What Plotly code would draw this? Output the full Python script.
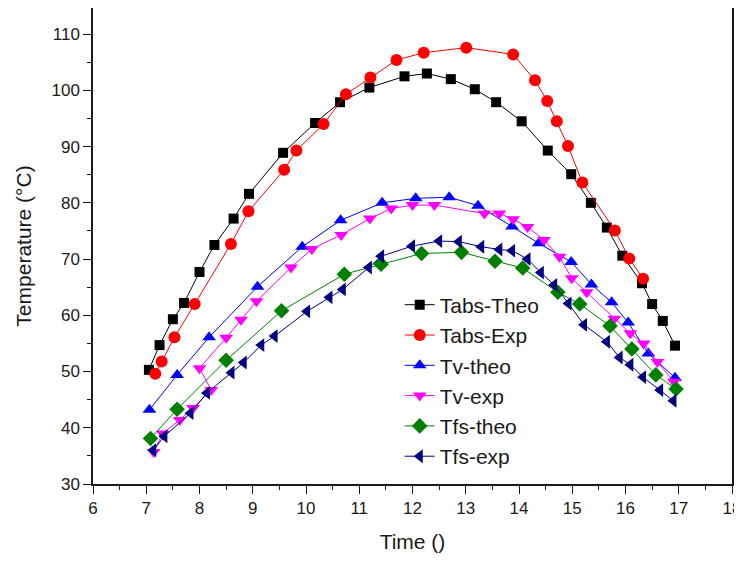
import plotly.graph_objects as go

# ---------------- data ----------------
tabs_theo_x = [7.05, 7.25, 7.5, 7.71, 8.0, 8.28, 8.64, 8.93, 9.57, 10.17, 10.64, 11.19, 11.85, 12.27,
               12.72, 13.17, 13.57, 14.05, 14.54, 14.98, 15.35, 15.65, 15.94, 16.31, 16.50, 16.70, 16.93]
tabs_theo_y = [50.3, 54.7, 59.3, 62.2, 67.7, 72.5, 77.2, 81.6, 88.9, 94.2, 97.9, 100.5, 102.5, 103.0,
               102.0, 100.2, 97.9, 94.5, 89.3, 85.1, 80.0, 75.6, 70.6, 65.7, 62.0, 59.0, 54.6]

tabs_exp_x = [7.17, 7.29, 7.53, 7.91, 8.59, 8.92, 9.59, 9.82, 10.33, 10.75, 11.21, 11.70, 12.21, 13.01,
              13.89, 14.30, 14.53, 14.71, 14.92, 15.19, 15.80, 16.07, 16.33]
tabs_exp_y = [49.6, 51.8, 56.1, 62.0, 72.7, 78.5, 85.9, 89.3, 94.0, 99.3, 102.3, 105.4, 106.7, 107.6,
              106.4, 101.8, 98.1, 94.5, 90.1, 83.6, 75.1, 70.1, 66.5]

tv_theo_x = [7.06, 7.58, 8.18, 9.09, 9.93, 10.65, 11.43, 12.06, 12.69, 13.23, 13.87, 14.37, 14.98,
             15.36, 15.74, 16.05, 16.43, 16.93]
tv_theo_y = [43.2, 49.4, 56.1, 65.1, 72.2, 76.9, 80.0, 80.8, 81.0, 79.5, 75.8, 72.8, 69.5,
             65.5, 62.3, 58.7, 53.2, 48.9]

tv_exp_x = [7.14, 7.31, 7.63, 7.88, 8.22, 8.0, 8.50, 8.78, 9.07, 9.72, 10.11, 10.66, 11.20, 11.60,
            12.00, 12.41, 13.35, 13.63, 13.89, 14.16, 14.47, 14.76, 14.99, 15.27, 15.79, 16.09,
            16.34, 16.60, 16.91]
tv_exp_y = [35.7, 39.0, 41.4, 43.5, 46.7, 50.6, 56.0, 59.2, 62.5, 68.5, 71.8, 74.3, 77.2, 79.0,
            79.6, 79.6, 78.1, 78.1, 77.1, 75.7, 73.4, 70.4, 66.6, 64.1, 59.4, 56.8,
            55.0, 51.7, 48.2]

tfs_theo_x = [7.08, 7.58, 8.50, 9.54, 10.72, 11.41, 12.17, 12.92, 13.55, 14.07, 14.73, 15.14,
              15.71, 16.12, 16.57, 16.95]
tfs_theo_y = [38.1, 43.3, 52.0, 60.8, 67.3, 69.1, 71.0, 71.2, 69.6, 68.4, 64.1, 62.0,
              58.1, 54.0, 49.4, 46.9]

tfs_exp_x = [7.13, 7.34, 7.83, 8.14, 8.60, 8.83, 9.16, 9.41, 10.02, 10.44, 10.69, 11.18, 11.41,
             11.99, 12.50, 12.87, 13.29, 13.63, 13.87, 14.16, 14.41, 14.66, 14.93, 15.22, 15.65,
             15.89, 16.09, 16.33, 16.65, 16.90]
tfs_exp_y = [36.0, 38.5, 42.6, 46.2, 49.8, 51.6, 54.7, 56.3, 60.7, 63.2, 64.6, 68.5, 70.5,
             72.3, 73.2, 73.1, 72.2, 71.7, 71.5, 70.0, 67.6, 65.4, 62.1, 58.3, 55.3,
             52.5, 51.2, 49.0, 46.7, 44.8]

series_names = ["Tabs-Theo", "Tabs-Exp", "Tv-theo", "Tv-exp", "Tfs-theo", "Tfs-exp"]
series_x = [tabs_theo_x, tabs_exp_x, tv_theo_x, tv_exp_x, tfs_theo_x, tfs_exp_x]
series_y = [tabs_theo_y, tabs_exp_y, tv_theo_y, tv_exp_y, tfs_theo_y, tfs_exp_y]
series_colors = ["#000000", "#FF0000", "#0000FF", "#FF00FF", "#008000", "#000080"]
series_symbols = ["square", "circle", "triangle-up", "triangle-down", "diamond", "triangle-left"]
series_sizes = [10, 12, 12, 12, 12, 12]

x_title = "Time ()"
y_title = "Temperature (°C)"

# ---------------- figure ----------------
fig = go.Figure()
for name, xs, ys, c, s, sz in zip(series_names, series_x, series_y, series_colors,
                                  series_symbols, series_sizes):
    fig.add_trace(go.Scatter(
        x=xs, y=ys, name=name, mode="lines+markers",
        line=dict(color=c, width=1),
        marker=dict(symbol=s, size=sz, color=c, line=dict(width=0)),
    ))

font_family = "Liberation Sans, Arial, sans-serif"
axis_common = dict(
    showline=True, linecolor="#1a1a1a", linewidth=1.5, mirror=True,
    ticks="outside", ticklen=8, tickwidth=1.2, tickcolor="#1a1a1a",
    showgrid=False, zeroline=False, automargin=False, ticklabeloverflow="allow",
    tickfont=dict(family=font_family, size=17, color="#1a1a1a"),
    title_font=dict(family=font_family, size=21, color="#1a1a1a"),
)

# the page body adds an 8px offset, so margins are reduced to compensate
fig.update_layout(
    width=742, height=553,
    margin=dict(l=85, r=18, t=0, b=77),
    paper_bgcolor="white", plot_bgcolor="white",
    showlegend=True,
    legend=dict(
        x=0.480, y=0.419, xanchor="left", yanchor="top",
        font=dict(family=font_family, size=21, color="#1a1a1a"),
        bgcolor="rgba(0,0,0,0)", borderwidth=0, tracegroupgap=0,
    ),
    xaxis=dict(range=[6, 18], dtick=1, tick0=6, title=dict(text=x_title, standoff=17),
               minor=dict(dtick=0.5, ticklen=4, ticks="outside", tickcolor="#1a1a1a"),
               **axis_common),
    yaxis=dict(range=[30, 114.65], dtick=10, tick0=30, title=dict(text=y_title, standoff=14),
               minor=dict(dtick=5, ticklen=4, ticks="outside", tickcolor="#1a1a1a"),
               **axis_common),
)

fig.write_html("out.html")
